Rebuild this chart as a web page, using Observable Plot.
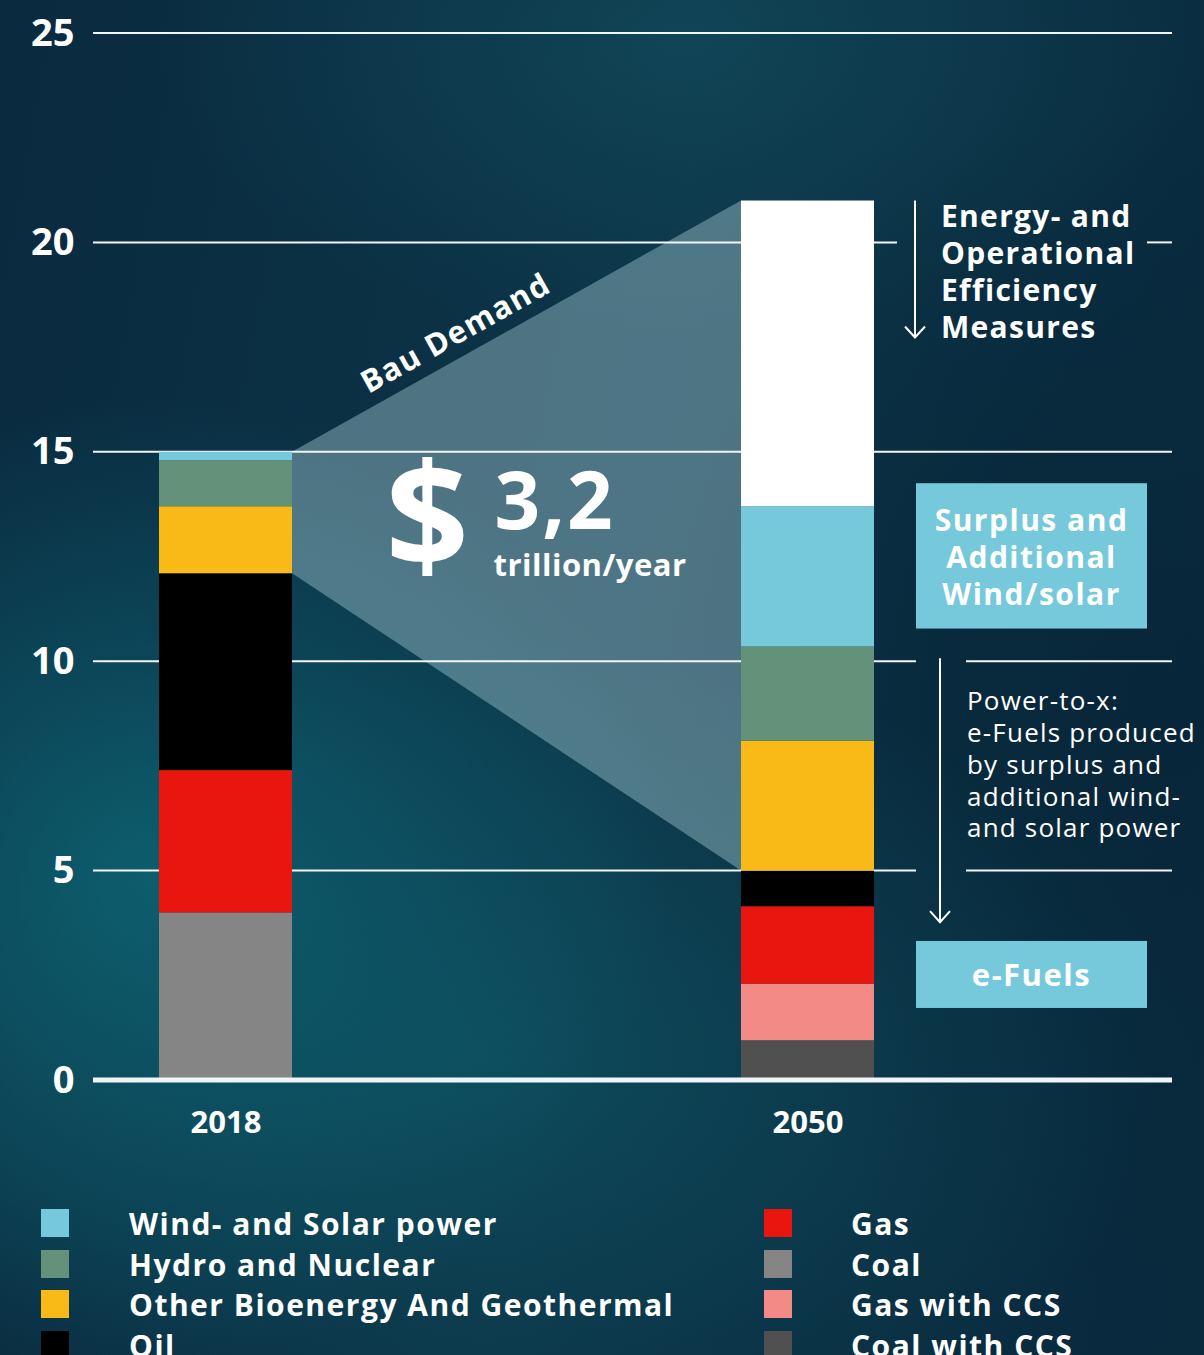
<!DOCTYPE html>
<html>
<head>
<meta charset="utf-8">
<script src="https://cdn.jsdelivr.net/npm/d3@7"></script>
<script src="https://cdn.jsdelivr.net/npm/@observablehq/plot@0.6"></script>
<style>
  html, body { margin: 0; padding: 0; }
  body {
    width: 1204px; height: 1355px; overflow: hidden; position: relative;
    font-family: "Open Sans", sans-serif; color: #fff;
    background:
      radial-gradient(ellipse 520px 480px at 150px 880px, rgba(13,100,115,0.85), rgba(13,100,115,0) 100%),
      radial-gradient(ellipse 520px 300px at 680px 40px, rgba(20,85,100,0.5), rgba(20,85,100,0) 100%),
      radial-gradient(ellipse 700px 420px at 480px 1060px, rgba(14,88,102,0.6), rgba(14,88,102,0) 100%),
      radial-gradient(ellipse 500px 600px at 1150px 700px, rgba(6,34,52,0.6), rgba(6,34,52,0) 100%),
      linear-gradient(100deg, #0a2a3f 0%, #0c3448 50%, #09293d 100%);
  }
  #chart { position: absolute; left: 0; top: 0; }
  #chart svg { display: block; }
  .sw { position: absolute; width: 28px; height: 28px; }
  .lbl { position: absolute; font-weight: 700; font-size: 30px; letter-spacing: 1.5px; white-space: nowrap; line-height: 28px; }
</style>
</head>
<body>
<div id="chart"></div>
<div id="legend"></div>
<script>
// ---------------- data ----------------
const years = ["2018", "2050"];
const sources = [
  "Coal with CCS", "Gas with CCS", "Coal", "Gas", "Oil",
  "Other Bioenergy And Geothermal", "Hydro and Nuclear", "Wind- and Solar power",
  "Energy- and Operational Efficiency Measures"
];
const colors = ["#505050", "#f48a85", "#858585", "#e8160f", "#000000", "#f9b916", "#63917a", "#76c9da", "#ffffff"];
const values2018 = [0, 0, 4.0, 3.4, 4.7, 1.6, 1.1, 0.2, 0];
const values2050 = [0.95, 1.35, 0, 1.85, 0.85, 3.1, 2.25, 3.35, 7.3];
const yTicks = [0, 5, 10, 15, 20, 25];
const legendLeft = ["Wind- and Solar power", "Hydro and Nuclear", "Other Bioenergy And Geothermal", "Oil"];
const legendRight = ["Gas", "Coal", "Gas with CCS", "Coal with CCS"];
const textEfficiency = ["Energy- and", "Operational", "Efficiency", "Measures"];
const textSurplus = ["Surplus and", "Additional", "Wind/solar"];
const textPtx = ["Power-to-x:", "e-Fuels produced", "by surplus and", "additional wind-", "and solar power"];
const textEfuels = "e-Fuels";
const bauLabel = "Bau Demand";
const costCurrency = "$";
const costValue = "3,2";
const costUnit = "trillion/year";

// ---------------- derived ----------------
const seriesByYear = [values2018, values2050];
const rows = years.flatMap((yr, j) => sources.map((s, i) => ({year: yr, source: s, value: seriesByYear[j][i]}))).filter(d => d.value > 0);
const oilIdx = sources.indexOf("Oil");
const totals = seriesByYear.map(v => d3.sum(v));
const fossilTops = seriesByYear.map(v => d3.sum(v.slice(0, oilIdx + 1)));
const colorOf = Object.fromEntries(sources.map((s, i) => [s, colors[i]]));

const FONT = "'Open Sans', sans-serif";
const W = 1204, H = 1170;

function layout(x, y) {
  const bw = x.bandwidth();
  const barR = x(years[1]) + bw;
  const colL = barR + 42, colR = colL + 231;
  const a1x = colL - 1, a1y0 = y(totals[1]), a1y1 = a1y0 + 137;
  const a2x = colL + 24, a2y0 = y(10) - 3, a2y1 = y(10) + 261;
  return {
    bw, barR, colL, colR, a1x, a1y0, a1y1, a2x, a2y0, a2y1,
    gaps: [
      {x0: colL - 19, x1: colR, y0: a1y0, y1: a1y1},
      {x0: colL, x1: colL + 50, y0: a2y0, y1: a2y1}
    ]
  };
}

function addLines(g, lines, x, y0, step, attrs) {
  const t = g.append("text").attr("x", x).attr("y", y0);
  for (const [k, v] of Object.entries(attrs)) t.attr(k, v);
  lines.forEach((ln, i) => t.append("tspan").attr("x", x).attr("y", y0 + i * step).text(ln));
  return t;
}

// polygon of BAU demand between 2018 and 2050
function bauMark(index, scales, values, dims) {
  const {x, y} = scales;
  const bw = x.bandwidth();
  const xa = x(years[0]) + bw, xb = x(years[1]);
  const pts = [[xa, y(totals[0])], [xb, y(totals[1])], [xb, y(fossilTops[1])], [xa, y(fossilTops[0])]];
  const g = d3.create("svg:g");
  g.append("polygon").attr("points", pts.map(p => p.join(",")).join(" "))
    .attr("fill", "#a8ccd6").attr("fill-opacity", 0.43);
  return g.node();
}

function gridMark(index, scales, values, dims) {
  const {x, y} = scales;
  const L = dims.marginLeft, R = dims.width - dims.marginRight;
  const lay = layout(x, y);
  const g = d3.create("svg:g").attr("stroke", "#f2f5f7").attr("stroke-width", 2);
  for (const t of yTicks) {
    if (t === 0) continue;
    const yy = y(t);
    let segs = [[L, R]];
    for (const gap of lay.gaps) {
      if (yy >= gap.y0 && yy <= gap.y1) {
        segs = segs.flatMap(([a, b]) => {
          const out = [];
          if (gap.x0 > a) out.push([a, Math.min(b, gap.x0)]);
          if (gap.x1 < b) out.push([Math.max(a, gap.x1), b]);
          return out;
        });
      }
    }
    for (const [a, b] of segs) g.append("line").attr("x1", a).attr("x2", b).attr("y1", yy).attr("y2", yy);
  }
  return g.node();
}

function annotMark(index, scales, values, dims) {
  const {x, y} = scales;
  const lay = layout(x, y);
  const g = d3.create("svg:g").attr("font-family", FONT).attr("fill", "#fff").attr("text-anchor", "start");
  const bw = lay.bw;
  const xa = x(years[0]) + bw, xb = x(years[1]);
  const ya = y(totals[0]), yb = y(totals[1]);

  // Bau Demand label along the polygon's upper edge
  const ang = Math.atan2(yb - ya, xb - xa);
  const t = 0.39, off = 13;
  const px = xa + t * (xb - xa) + off * Math.sin(ang);
  const py = ya + t * (yb - ya) - off * Math.cos(ang);
  g.append("text").attr("transform", `translate(${px},${py}) rotate(${ang * 180 / Math.PI})`)
    .attr("text-anchor", "middle").attr("font-size", 31).attr("font-weight", 700)
    .attr("letter-spacing", 1.3).text(bauLabel);

  // $ 3,2 trillion/year
  const mid = (xa + xb) / 2;
  g.append("text").attr("x", mid - 131).attr("y", ya + 116).attr("font-size", 146).attr("font-weight", 700).text(costCurrency);
  g.append("text").attr("x", mid - 22).attr("y", ya + 77).attr("font-size", 80).attr("font-weight", 700).attr("letter-spacing", 2).text(costValue);
  g.append("text").attr("x", mid - 23).attr("y", ya + 124).attr("font-size", 31).attr("font-weight", 700).attr("letter-spacing", 0.5).text(costUnit);

  // arrows
  const arrows = g.append("g").attr("stroke", "#fff").attr("stroke-width", 2).attr("fill", "none");
  for (const [ax, y0, y1] of [[lay.a1x, lay.a1y0, lay.a1y1], [lay.a2x, lay.a2y0, lay.a2y1]]) {
    arrows.append("line").attr("x1", ax).attr("x2", ax).attr("y1", y0).attr("y2", y1);
    arrows.append("polyline").attr("points", `${ax - 10},${y1 - 11} ${ax},${y1} ${ax + 10},${y1 - 11}`);
  }

  // efficiency text
  addLines(g, textEfficiency, lay.colL + 25, lay.a1y0 + 26, 37,
    {"font-size": 30, "font-weight": 700, "letter-spacing": 1.3});

  // surplus box
  const cx = (lay.colL + lay.colR) / 2;
  const sTop = y(14.25), sBot = y(10.78);
  g.append("rect").attr("x", lay.colL).attr("y", sTop).attr("width", lay.colR - lay.colL).attr("height", sBot - sTop).attr("fill", "#76c9da");
  addLines(g, textSurplus, cx, sTop + 48, 37,
    {"font-size": 30, "font-weight": 700, "letter-spacing": 1.5, "text-anchor": "middle"});

  // power-to-x text
  addLines(g, textPtx, lay.colL + 51, y(10) + 49, 31.8,
    {"font-size": 26, "font-weight": 400, "letter-spacing": 1.2});

  // e-fuels box
  const eTop = y(3.32), eBot = y(1.72);
  g.append("rect").attr("x", lay.colL).attr("y", eTop).attr("width", lay.colR - lay.colL).attr("height", eBot - eTop).attr("fill", "#76c9da");
  g.append("text").attr("x", cx).attr("y", eTop + 45).attr("text-anchor", "middle")
    .attr("font-size", 31).attr("font-weight", 700).attr("letter-spacing", 1.5).text(textEfuels);
  return g.node();
}

const chart = Plot.plot({
  width: W, height: H,
  marginLeft: 93, marginRight: 32, marginTop: 33, marginBottom: H - 1080,
  style: {background: "transparent", fontFamily: FONT, overflow: "visible"},
  x: {type: "band", domain: years, paddingInner: 0.771478, paddingOuter: 0.312715, align: 0.18132, round: false, axis: null},
  y: {domain: [0, 25], axis: null},
  color: {domain: sources, range: colors},
  marks: [
    bauMark,
    gridMark,
    Plot.barY(rows, Plot.stackY({order: sources, x: "year", y: "value", fill: "source"})),
    Plot.ruleY([0], {stroke: "#f2f5f7", strokeWidth: 5, dy: -0.5}),
    Plot.text(yTicks, {y: d => d, text: d => String(d), frameAnchor: "left", textAnchor: "end", dx: -19,
      fill: "#fff", fontSize: 38, fontWeight: 700, fontFamily: FONT, letterSpacing: 2.5}),
    Plot.text(years, {x: d => d, text: d => d, frameAnchor: "bottom", lineAnchor: "middle", dy: 43,
      fill: "#fff", fontSize: 31, fontWeight: 700, fontFamily: FONT, letterSpacing: 3}),
    annotMark
  ]
});
document.getElementById("chart").appendChild(chart);

// ---------------- legend ----------------
const legend = document.getElementById("legend");
const cols = [{items: legendLeft, sw: 41, tx: 129}, {items: legendRight, sw: 764, tx: 851}];
for (const c of cols) {
  c.items.forEach((name, i) => {
    const top = 1209 + i * 40.7;
    const s = document.createElement("div");
    s.className = "sw"; s.style.left = c.sw + "px"; s.style.top = top + "px"; s.style.background = colorOf[name];
    legend.appendChild(s);
    const l = document.createElement("div");
    l.className = "lbl"; l.style.left = c.tx + "px"; l.style.top = (top + 1) + "px"; l.textContent = name;
    legend.appendChild(l);
  });
}
</script>
</body>
</html>
